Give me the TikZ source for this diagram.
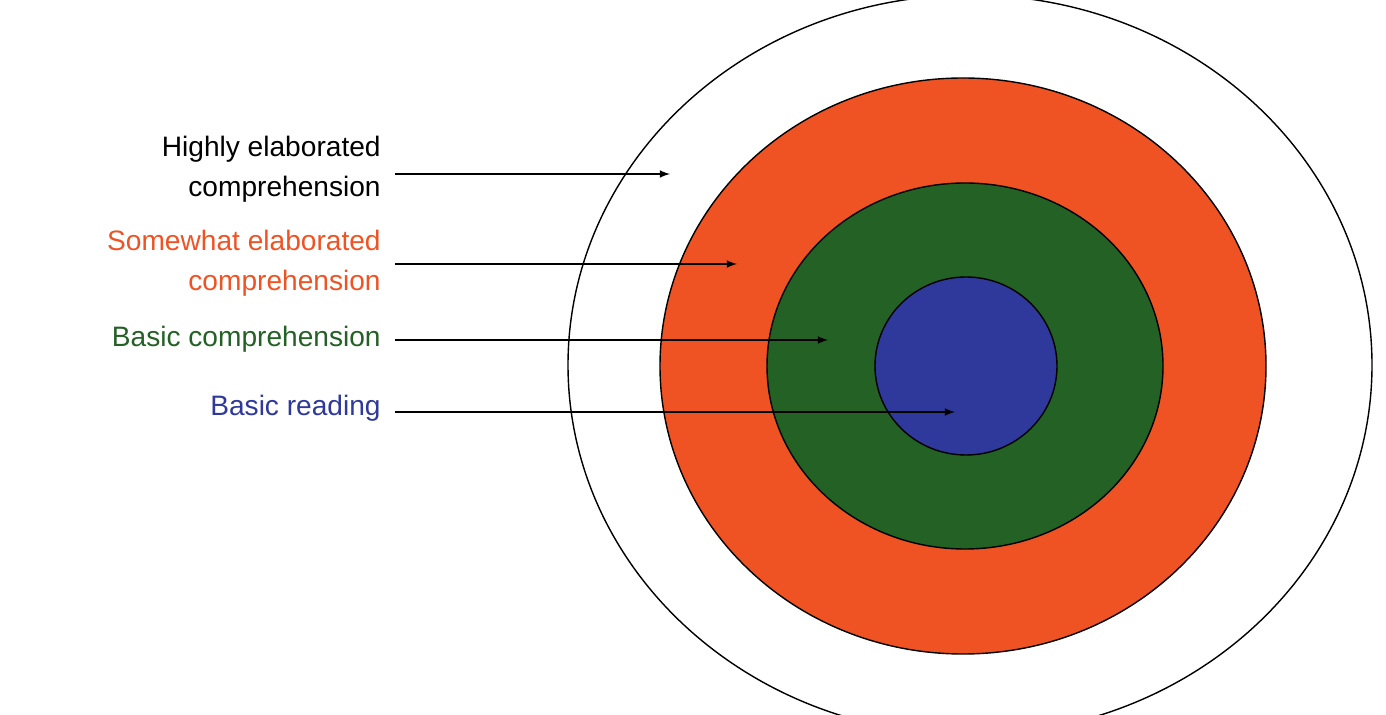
\documentclass[tikz,border=0pt]{standalone}
\usepackage{fontspec}
\setmainfont{Liberation Sans}
\definecolor{oran}{HTML}{EF5324}
\definecolor{gren}{HTML}{236125}
\definecolor{blu}{HTML}{2E399B}
\begin{document}
\begin{tikzpicture}[x=0.02cm,y=-0.02cm,
  ring/.style={draw=black,line width=0.8pt},
  lab/.style={anchor=east,align=right,font=\fontsize{16}{22.8}\selectfont,inner sep=0pt},
  arr/.style={draw=black,line width=1pt,-latex}]
\useasboundingbox (0,0) rectangle (1386,715);
\begin{scope}
\clip (0,0) rectangle (1386,715);
\draw[ring,fill=white] (970,365) ellipse [x radius=402, y radius=370];
\end{scope}
\draw[ring,fill=oran] (963,366) ellipse [x radius=303, y radius=288];
\draw[ring,fill=gren] (965,366) ellipse [x radius=198, y radius=183];
\draw[ring,fill=blu] (966,366) ellipse [x radius=91, y radius=89];
\node[lab,text=black] (t1) at (381,169) {Highly elaborated\\comprehension};
\node[lab,text=oran] (t2) at (381,263) {Somewhat elaborated\\comprehension};
\node[lab,text=gren] (t3) at (381,339) {Basic comprehension};
\node[lab,text=blu] (t4) at (381,408) {Basic reading};
\coordinate (s1) at (395,174); \coordinate (e1) at (670,174);
\coordinate (s2) at (395,264); \coordinate (e2) at (737,264);
\coordinate (s3) at (395,340); \coordinate (e3) at (828,340);
\coordinate (s4) at (395,412); \coordinate (e4) at (955,412);
\draw[arr] (s1) -- (e1);
\draw[arr] (s2) -- (e2);
\draw[arr] (s3) -- (e3);
\draw[arr] (s4) -- (e4);
\end{tikzpicture}
\end{document}
